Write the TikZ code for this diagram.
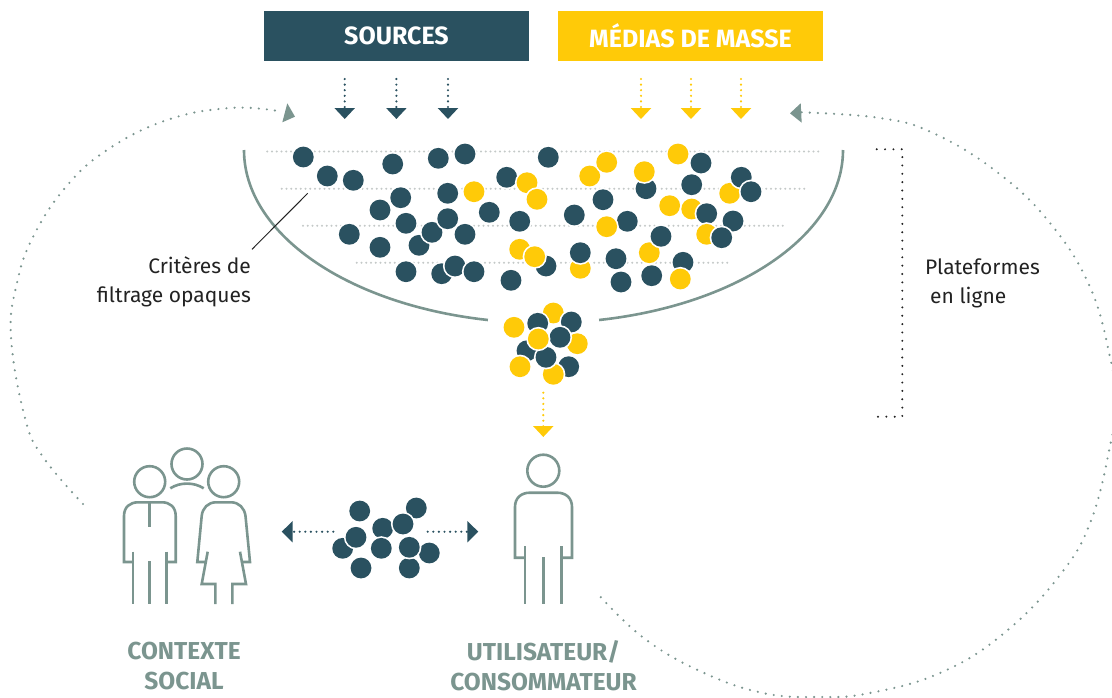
\documentclass[tikz,border=0pt]{standalone}
\usepackage{fontspec}
\setmainfont{Fira Sans}
\usetikzlibrary{arrows.meta}
\definecolor{darkteal}{HTML}{2A5160}
\definecolor{sunyellow}{HTML}{FFCA08}
\definecolor{sage}{HTML}{7B958F}
\definecolor{inkblack}{HTML}{222222}
\definecolor{rowgrey}{HTML}{C4C9C8}
\newcommand{\dd}[2]{\fill[white] (#1,#2) circle[radius=12.1pt];\fill[darkteal] (#1,#2) circle[radius=10.4pt];}
\newcommand{\yy}[2]{\fill[white] (#1,#2) circle[radius=12.1pt];\fill[sunyellow] (#1,#2) circle[radius=10.4pt];}
\tikzset{
  headbox/.style={minimum width=265pt,minimum height=50pt,inner sep=0pt,text=white,font=\fontsize{25}{30}\selectfont\bfseries},
  bodytext/.style={text=inkblack,font=\fontsize{21}{29}\selectfont,inner sep=0pt},
  sagetitle/.style={text=sage,font=\fontsize{24.5}{30}\selectfont\bfseries,align=center,inner sep=0pt},
  rowdots/.style={rowgrey,line width=2.2pt,line cap=round,dash pattern=on 0pt off 4.75pt},
  smalldots/.style={line width=2.4pt,line cap=round,dash pattern=on 0pt off 5.6pt},
  loopdots/.style={sage,line width=2.4pt,line cap=round,dash pattern=on 0pt off 8.1pt},
  brackdots/.style={inkblack,line width=2.2pt,line cap=round,dash pattern=on 0pt off 8.35pt},
  downtip/.style={-{Triangle[length=11pt,width=20pt]}},
  sidetip/.style={-{Triangle[length=11pt,width=21pt]}},
  fig/.style={sage,line width=2.6pt,line join=miter},
  bowl/.style={sage,line width=2.6pt},
}
\begin{document}
\begin{tikzpicture}[x=1pt,y=-1pt]
\useasboundingbox (0,0) rectangle (1112,697);
\clip (0,0) rectangle (1112,697);
% header boxes
\node[headbox,fill=darkteal] (sources) at (396.5,36) {SOURCES};
\node[headbox,fill=sunyellow] (medias) at (690.5,36) {MÉDIAS DE MASSE};
% source arrows
\foreach \n/\x in {a/344.7,b/396.4,c/448}{
  \coordinate (s\n) at (\x,79); \coordinate (t\n) at (\x,119);
  \draw[smalldots,darkteal,downtip] (s\n) -- (t\n);}
\foreach \n/\x in {d/641,e/691,f/741}{
  \coordinate (s\n) at (\x,79); \coordinate (t\n) at (\x,119);
  \draw[smalldots,sunyellow,downtip] (s\n) -- (t\n);}
% feedback loops
\draw[loopdots] plot[smooth,tension=0.7] coordinates {(83,504) (43,457) (25,418) (11,337) (17,283) (33,237) (65,188) (107,150) (167,120) (230,108) (278,111)};
\fill[sage] (287.3,103.3) -- (295,116.7) -- (282.3,122.3) -- cycle;
\draw[loopdots] plot[smooth,tension=0.7] coordinates {(801.7,112.3) (880,118) (933,133) (997,172) (1050,223) (1090,287) (1110,357) (1117,405) (1111.7,438) (1092,518) (1060,575) (1003,634) (940,673) (870,693) (820,697) (763,693) (702,672) (645,639) (600.7,597)};
\fill[sage] (800.7,103.3) -- (790,113.3) -- (801.7,122.7) -- cycle;
% bowl
\draw[bowl] (244,150) arc[start angle=180,end angle=259.3,x radius=299.5pt,y radius=173pt];
\draw[bowl] (843,150) arc[start angle=0,end angle=-79.3,x radius=299.5pt,y radius=173pt];
% filter rows
\draw[rowdots] (267.3,151.5) -- (820,151.5);
\draw[rowdots] (281.7,188.7) -- (806.7,188.7);
\draw[rowdots] (303,225.7) -- (784,225.7);
\draw[rowdots] (356.7,262.7) -- (731.7,262.7);
% leader
\coordinate (leadA) at (307.7,193.3); \coordinate (leadB) at (252,249.3);
\draw[inkblack,line width=1pt] (leadA) -- (leadB);
% discs in the bowl
\dd{303.3}{157}\dd{327.3}{176}\dd{353.3}{180.3}\dd{392.7}{164}\dd{438.3}{158.3}\dd{465}{154}\dd{380}{210}\dd{400.7}{197.7}\dd{447.7}{193.3}\yy{474}{191.7}\dd{506.7}{177.3}\yy{527}{182.7}\yy{537}{199.3}\dd{489.3}{212.3}\dd{519.7}{221.3}\dd{406}{223.3}\dd{419}{245.3}\dd{432}{232.3}\dd{447.7}{218.7}\dd{465}{234.3}\dd{349.3}{234.3}\dd{380}{247.3}\dd{546}{266}\yy{519.7}{249.3}\yy{534.7}{256.7}\dd{406}{271.7}\dd{441.7}{273.7}\dd{455}{266}\dd{474}{271.7}\dd{511}{280.3}\dd{548.3}{157.3}\yy{589.7}{176}\yy{606.7}{162.3}\dd{646}{188.7}\yy{644.3}{171.7}\yy{678}{154}\dd{701}{163}\dd{691.7}{184.7}\yy{729.7}{193.3}\dd{741.3}{177.3}\dd{751}{191.7}\dd{603}{199.7}\dd{574.3}{215}\dd{627.3}{221.3}\yy{606.7}{226.7}\yy{669.7}{205.7}\yy{691.7}{209}\dd{706.7}{213.7}\yy{706.7}{234.3}\dd{733}{221}\dd{721.7}{237.7}\yy{649.3}{252.7}\dd{661}{236.3}\yy{580.3}{268.3}\dd{580.3}{252.7}\dd{616}{258.7}\dd{621}{282}\dd{651.7}{275.7}\dd{683}{262.3}\yy{680.3}{279}
% funnel cluster
\yy{553.3}{313}\dd{571.3}{322}\dd{537.7}{323.3}\yy{577.3}{343.7}\dd{568.7}{366.7}\yy{553.3}{374.3}\dd{527}{350.7}\dd{546}{357.3}\dd{560}{337.3}\yy{538.3}{339}\yy{520}{366.7}\yy{514}{327.3}
% arrow to user
\coordinate (fa) at (543.3,392.7); \coordinate (fb) at (543.3,437);
\draw[smalldots,sunyellow,downtip] (fa) -- (fb);
% bottom cluster
\dd{359.7}{511}\dd{416.3}{508}\dd{382.7}{528.3}\dd{403}{524}\dd{342.7}{548.3}\dd{356}{537.3}\dd{381.3}{548.3}\dd{429.3}{553}\dd{409.3}{568}\dd{409.3}{547.3}\dd{361}{568}
\coordinate (la) at (333.3,531.7); \coordinate (lb) at (281.7,531.7);
\coordinate (ra) at (427.7,531.7); \coordinate (rb) at (478.3,531.7);
\draw[smalldots,darkteal,sidetip] (la) -- (lb);
\draw[smalldots,darkteal,sidetip] (ra) -- (rb);
% bracket
\draw[brackdots] (876.7,149.3) -- (902.3,149.3) -- (902.3,416.7) -- (876.7,416.7);
% user figure
\draw[fig] (543.3,470.7) circle[radius=16pt];
\draw[fig] (525,557.7) -- (515,557.7) -- (515,507) .. controls (515,498) and (521,492.7) .. (530,492.7) -- (557,492.7) .. controls (566,492.7) and (572,498) .. (572,507) -- (572,557.7) -- (561.7,557.7);
\draw[fig] (525,546) -- (525,604.3);
\draw[fig] (561.7,546) -- (561.7,604.3);
\draw[fig] (543.3,557) -- (543.3,604.3);
% social context
\draw[fig] (187,464) circle[radius=15.5pt];
\draw[fig] (149.7,481.7) circle[radius=15.5pt];
\draw[fig] (223.7,481.7) circle[radius=15.5pt];
\draw[fig] (170.3,488.3) .. controls (180,482) and (194,482) .. (203.7,488.3);
\draw[fig] (133,562) -- (124,562) -- (124,516) .. controls (124,507) and (130,502.3) .. (138,502.3) -- (162,502.3) .. controls (170,502.3) and (175.7,507) .. (175.7,516) -- (175.7,562) -- (166.3,562);
\draw[fig] (133,551.7) -- (133,604);
\draw[fig] (166.3,551.7) -- (166.3,604);
\draw[fig] (149.7,502.3) -- (149.7,527.3);
\draw[fig] (149.7,561) -- (149.7,604);
\draw[fig] (206,562) -- (197.3,562) -- (201.7,516) .. controls (202.5,508) and (208,502.3) .. (216,502.3) -- (231,502.3) .. controls (239,502.3) and (244.5,508) .. (245.5,516) -- (250,562) -- (241,562);
\draw[fig] (207.7,551.7) -- (201.7,584) -- (215.3,584) -- (215.3,604);
\draw[fig] (240,551.7) -- (246,584) -- (232.3,584) -- (232.3,604);
% text
\node[bodytext,align=right,anchor=east] (crit) at (251,281.5) {Critères de\\filtrage opaques};
\node[bodytext,align=left,anchor=west] (plat) at (925,283) {Plateformes\\\hspace*{5pt}en ligne};
\node[sagetitle] (ctx) at (184,666) {CONTEXTE\\SOCIAL};
\node[sagetitle] (usr) at (543.5,666) {UTILISATEUR/\\CONSOMMATEUR};
\end{tikzpicture}
\end{document}
